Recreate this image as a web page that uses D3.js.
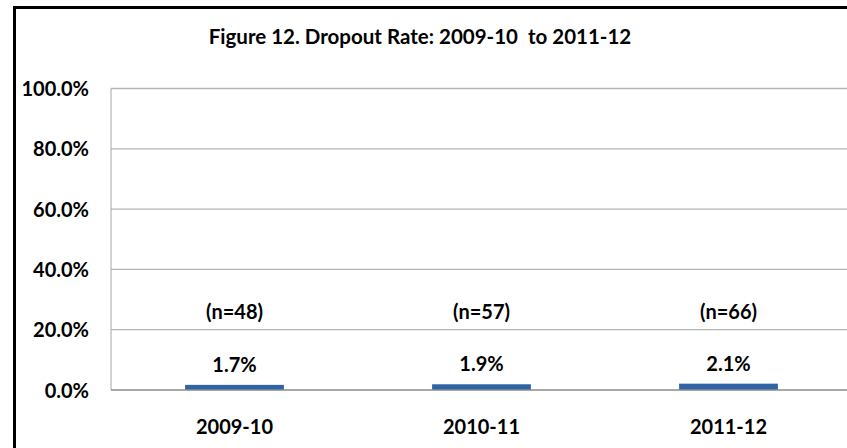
<!DOCTYPE html>
<html>
<head>
<meta charset="utf-8">
<script src="https://cdn.jsdelivr.net/npm/d3@7"></script>
<style>
  html, body { margin: 0; padding: 0; background: #fff; overflow: hidden; width: 847px; height: 448px; }
  svg { display: block; position: absolute; left: 0; top: 0; }
  #frame { position: absolute; left: 13px; top: 6px; width: 900px; height: 500px; border-left: 3px solid #000; border-top: 3px solid #000; box-sizing: border-box; }
  text { font-family: Lato, Roboto, "Liberation Sans", sans-serif; font-weight: bold; fill: #000; }
</style>
</head>
<body>
<div id="frame"></div>
<svg id="chart" width="847" height="448"></svg>
<script>
const title = "Figure 12. Dropout Rate: 2009-10\u00a0 to 2011-12";
const categories = ["2009-10", "2010-11", "2011-12"];
const rates = [0.017, 0.019, 0.021];
const counts = [48, 57, 66];
const yTicks = [0, 0.2, 0.4, 0.6, 0.8, 1.0];

const svg = d3.select("#chart");
const plot = { left: 111, top: 88.5, right: 852, bottom: 390 };
const FS = "20px";

// outer chart border (left and top edges visible; right/bottom lie outside the picture)
svg.append("path").attr("d", "M14.5,448 V7.5 H847")
  .attr("fill", "none").attr("stroke", "#000").attr("stroke-width", 3);

const x = d3.scaleBand().domain(categories).range([plot.left, plot.right]).paddingInner(0.6).paddingOuter(0.3);
const y = d3.scaleLinear().domain([0, 1]).range([plot.bottom, plot.top]);

// gridlines
svg.append("g").selectAll("line").data(yTicks.filter(d => d > 0)).join("line")
  .attr("x1", plot.left).attr("x2", plot.right)
  .attr("y1", d => y(d)).attr("y2", d => y(d))
  .attr("stroke", "#b5b5b5").attr("stroke-width", 1.3);

// plot left border
svg.append("line")
  .attr("x1", plot.left).attr("x2", plot.left)
  .attr("y1", plot.top).attr("y2", plot.bottom)
  .attr("stroke", "#a6a6a6").attr("stroke-width", 1);

// y axis labels
const yAxis = d3.axisLeft(y).tickValues(yTicks).tickFormat(d3.format(".1%")).tickSize(0).tickPadding(22);
const ya = svg.append("g").attr("transform", `translate(${plot.left},0)`).call(yAxis);
ya.select(".domain").remove();
ya.attr("font-family", null);
ya.selectAll("text").style("font-size", FS).attr("dy", "0.35em");

// bars
svg.append("g").selectAll("rect").data(categories).join("rect")
  .attr("x", d => x(d))
  .attr("width", x.bandwidth())
  .attr("y", (d, i) => y(rates[i]))
  .attr("height", (d, i) => y(0) - y(rates[i]))
  .attr("fill", "#2e64a6");

// zero axis line
svg.append("line")
  .attr("x1", plot.left).attr("x2", plot.right)
  .attr("y1", y(0)).attr("y2", y(0))
  .attr("stroke", "#8a8a8a").attr("stroke-width", 1.3);

// category labels
const xAxis = d3.axisBottom(x).tickSize(0).tickPadding(30);
const xa = svg.append("g").attr("transform", `translate(0,${y(0)})`).call(xAxis);
xa.select(".domain").remove();
xa.attr("font-family", null);
xa.selectAll("text").style("font-size", FS).attr("dy", "0.71em");

// value labels
svg.append("g").selectAll("text").data(categories).join("text")
  .attr("x", d => x(d) + x.bandwidth() / 2)
  .attr("y", (d, i) => y(rates[i]) - 20)
  .attr("dy", "0.35em")
  .attr("text-anchor", "middle")
  .style("font-size", FS)
  .text((d, i) => d3.format(".1%")(rates[i]));

// n labels
svg.append("g").selectAll("text").data(categories).join("text")
  .attr("x", d => x(d) + x.bandwidth() / 2)
  .attr("y", y(0.26))
  .attr("dy", "0.35em")
  .attr("text-anchor", "middle")
  .style("font-size", FS)
  .text((d, i) => `(n=${counts[i]})`);

// title
svg.append("text")
  .attr("x", 420).attr("y", 44)
  .attr("text-anchor", "middle")
  .style("font-size", "20.5px")
  .text(title);
</script>
</body>
</html>
